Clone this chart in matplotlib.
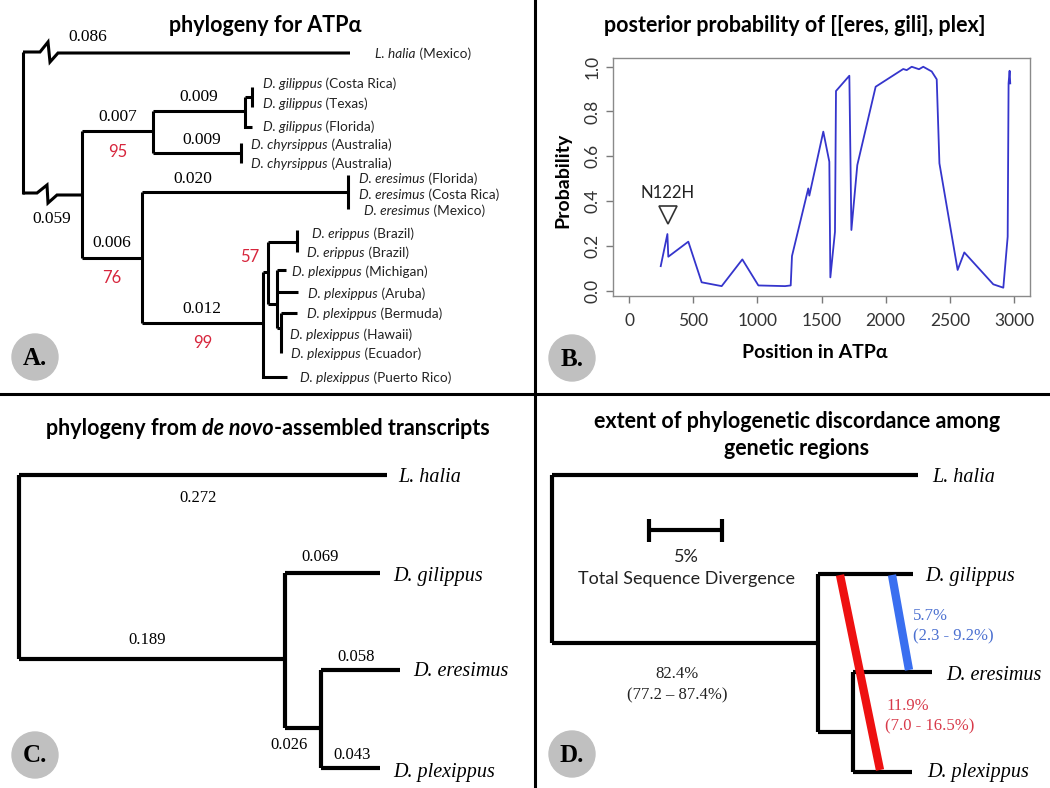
import matplotlib
matplotlib.use('Agg')
import matplotlib.pyplot as plt
from matplotlib.patches import Circle

# ---------------- data ----------------
# Panel B: posterior probability along ATPalpha
positions = [247, 299, 306, 462, 566, 722, 883, 1008, 1216, 1260, 1270, 1397, 1405,
             1514, 1561, 1569, 1605, 1613, 1717, 1733, 1779, 1922, 2137, 2164, 2203,
             2260, 2293, 2359, 2398, 2419, 2561, 2613, 2839, 2917, 2951, 2958, 2966, 2971]
probability = [0.111, 0.254, 0.153, 0.220, 0.039, 0.022, 0.141, 0.025, 0.022, 0.025,
               0.156, 0.457, 0.425, 0.710, 0.576, 0.061, 0.264, 0.891, 0.959, 0.272,
               0.561, 0.910, 0.989, 0.984, 0.999, 0.988, 0.999, 0.978, 0.943, 0.569,
               0.094, 0.172, 0.030, 0.015, 0.242, 0.925, 0.981, 0.925]
xticks_B = [0, 500, 1000, 1500, 2000, 2500, 3000]
yticks_B = [0.0, 0.2, 0.4, 0.6, 0.8, 1.0]
mutation_label = "N122H"
mutation_pos = 300

# Panel A tips (species, locality)
tipsA_species = ["L. halia", "D. gilippus", "D. gilippus", "D. gilippus", "D. chyrsippus",
                 "D. chyrsippus", "D. eresimus", "D. eresimus", "D. eresimus", "D. erippus",
                 "D. erippus", "D. plexippus", "D. plexippus", "D. plexippus", "D. plexippus",
                 "D. plexippus", "D. plexippus"]
tipsA_locality = ["(Mexico)", "(Costa Rica)", "(Texas)", "(Florida)", "(Australia)",
                  "(Australia)", "(Florida)", "(Costa Rica)", "(Mexico)", "(Brazil)",
                  "(Brazil)", "(Michigan)", "(Aruba)", "(Bermuda)", "(Hawaii)",
                  "(Ecuador)", "(Puerto Rico)"]
branchA_labels = ["0.086", "0.059", "0.007", "0.009", "0.009", "0.020", "0.006", "0.012"]
bootstrapA = ["95", "76", "99", "57"]

# Panel C
tipsC = ["L. halia", "D. gilippus", "D. eresimus", "D. plexippus"]
branchC_labels = ["0.272", "0.189", "0.069", "0.026", "0.058", "0.043"]

# Panel D
tipsD = ["L. halia", "D. gilippus", "D. eresimus", "D. plexippus"]
concordant = ["82.4%", "(77.2 \u2013 87.4%)"]
discord_blue = ["5.7%", "(2.3 - 9.2%)"]
discord_red = ["11.9%", "(7.0 - 16.5%)"]

# ---------------- figure ----------------
W, H = 1050, 788
fig = plt.figure(figsize=(W / 100, H / 100), dpi=100)
fig.patch.set_facecolor('white')
ax = fig.add_axes([0, 0, 1, 1])
ax.set_xlim(0, W)
ax.set_ylim(H, 0)
ax.axis('off')
renderer = fig.canvas.get_renderer()

SANS = ['Lato', 'DejaVu Sans']
SERIF = ['Liberation Serif', 'DejaVu Serif']


def rich(x, y, segs, ha='left', size=10, family=SANS, color='black'):
    widths = []
    for s, st, wt in segs:
        t = ax.text(0, 0, s, fontsize=size, family=family, style=st, weight=wt)
        widths.append(t.get_window_extent(renderer).width)
        t.remove()
    total = sum(widths)
    x0 = x - total / 2 if ha == 'center' else x
    for (s, st, wt), w in zip(segs, widths):
        ax.text(x0, y, s, fontsize=size, family=family, style=st, weight=wt,
                ha='left', va='center_baseline', color=color)
        x0 += w


def path(pts, lw=2.2, color='black'):
    xs = [p[0] for p in pts]
    ys = [p[1] for p in pts]
    ax.plot(xs, ys, color=color, lw=lw, solid_capstyle='butt', solid_joinstyle='miter')


# dividers
ax.plot([535, 535], [0, H], color='black', lw=2.2)
ax.plot([0, W], [394, 394], color='black', lw=2.2)

# panel circles
for (cx, cy), lab in zip([(35, 357), (572, 358), (35, 755), (572, 754)], ["A.", "B.", "C.", "D."]):
    ax.add_patch(Circle((cx, cy), 23, color='#c0c0c0', zorder=1))
    ax.text(cx, cy + 1, lab, ha='center', va='center', fontsize=18, weight='bold',
            family=SERIF, zorder=2)

# titles
TFS = 15.5
ax.text(265, 25, "phylogeny for ATP\u03b1", ha='center', va='center', fontsize=TFS,
        weight='bold', family=SANS)
ax.text(795, 25, "posterior probability of [[eres, gili], plex]", ha='center', va='center',
        fontsize=TFS, weight='bold', family=SANS)
rich(268, 426, [("phylogeny from ", 'normal', 'bold'), ("de novo", 'italic', 'bold'),
                ("-assembled transcripts", 'normal', 'bold')], ha='center', size=TFS)
ax.text(797, 421, "extent of phylogenetic discordance among", ha='center', va='center',
        fontsize=TFS, weight='bold', family=SANS)
ax.text(797, 448, "genetic regions", ha='center', va='center', fontsize=TFS,
        weight='bold', family=SANS)

# ---------------- Panel A tree ----------------
LA = 2.2
path([(23, 52), (23, 194)], LA)
path([(23, 52), (40, 52), (48, 42), (50, 62), (58, 53), (350, 53)], LA)
path([(23, 193), (37, 193), (47, 185), (48, 203), (57, 195), (82, 195)], LA)
path([(82, 131), (82, 258)], LA)
path([(82, 131), (153, 131)], LA)
path([(153, 111), (153, 153)], LA)
path([(153, 111), (245, 111)], LA)
path([(245, 97), (245, 127), (252, 127)], LA)
path([(245, 97), (252, 97)], LA)
path([(252, 87), (252, 107)], LA)
path([(153, 153), (241, 153)], LA)
path([(241, 143), (241, 163)], LA)
path([(82, 258), (142, 258)], LA)
path([(142, 192), (142, 323)], LA)
path([(142, 192), (348, 192)], LA)
path([(348, 175), (348, 209)], LA)
path([(142, 323), (263, 323)], LA)
path([(263, 272), (263, 377), (287, 377)], LA)
path([(263, 272), (268, 272)], LA)
path([(268, 242), (268, 304)], LA)
path([(268, 242), (297, 242)], LA)
path([(297, 230), (297, 252)], LA)
path([(268, 304), (277, 304)], LA)
path([(277, 270), (277, 328)], LA)
path([(277, 270), (286, 270)], LA)
path([(277, 292), (298, 292)], LA)
path([(277, 328), (281, 328)], LA)
path([(281, 313), (281, 353)], LA)
path([(281, 313), (297, 313)], LA)

tipA_xy = [(375, 53), (263, 83), (263, 103), (263, 126), (251, 144), (251, 163),
           (359, 178), (359, 194), (364, 210), (312, 233), (307, 252), (292, 271),
           (308, 293), (307, 313), (290, 334), (291, 353), (300, 377)]
for (x, y), sp, loc in zip(tipA_xy, tipsA_species, tipsA_locality):
    rich(x, y, [(sp, 'italic', 'normal'), (" " + loc, 'normal', 'normal')], size=9.8,
         color='#222222')

branchA_xy = [(88, 37), (52, 219), (118, 117), (199, 97), (202, 140), (193, 179),
              (112, 243), (202, 309)]
for (x, y), s in zip(branchA_xy, branchA_labels):
    ax.text(x, y, s, ha='center', va='center', fontsize=12.5, family=SERIF)
bootA_xy = [(118, 152), (112, 278), (203, 343), (250, 257)]
for (x, y), s in zip(bootA_xy, bootstrapA):
    ax.text(x, y, s, ha='center', va='center', fontsize=12, family=SANS, color='#d7263d')

# ---------------- Panel C tree ----------------
LC = 3.0
path([(19, 475), (19, 659)], LC)
path([(19, 475), (387, 475)], LC)
path([(19, 659), (285, 659)], LC)
path([(285, 573), (285, 728)], LC)
path([(285, 573), (380, 573)], LC)
path([(285, 728), (321, 728)], LC)
path([(321, 670), (321, 768)], LC)
path([(321, 670), (400, 670)], LC)
path([(321, 768), (380, 768)], LC)
tipC_xy = [(398, 477), (393, 577), (413, 672), (393, 772)]
for (x, y), s in zip(tipC_xy, tipsC):
    ax.text(x, y, s, ha='left', va='center', fontsize=14.5, style='italic', family=SERIF)
branchC_xy = [(198, 498), (147, 640), (320, 557), (289, 745), (356, 657), (352, 755)]
for (x, y), s in zip(branchC_xy, branchC_labels):
    ax.text(x, y, s, ha='center', va='center', fontsize=12, family=SERIF)

# ---------------- Panel D tree ----------------
path([(552, 475), (552, 643)], LC)
path([(552, 475), (918, 475)], LC)
path([(552, 643), (818, 643)], LC)
path([(818, 574), (818, 732)], LC)
path([(818, 574), (913, 574)], LC)
path([(818, 732), (853, 732)], LC)
path([(853, 672), (853, 772)], LC)
path([(853, 672), (932, 672)], LC)
path([(853, 772), (912, 772)], LC)
tipD_xy = [(932, 477), (925, 577), (946, 675), (927, 772)]
for (x, y), s in zip(tipD_xy, tipsD):
    ax.text(x, y, s, ha='left', va='center', fontsize=14.5, style='italic', family=SERIF)
# discordance bands
ax.plot([840, 880], [575, 770], color='#ee1111', lw=6, solid_capstyle='butt')
ax.plot([892, 909], [575, 670], color='#3a6ff0', lw=6, solid_capstyle='butt')
ax.text(913, 616, discord_blue[0], ha='left', va='center', fontsize=12, family=SERIF,
        color='#4a6fd0')
ax.text(913, 636, discord_blue[1], ha='left', va='center', fontsize=12, family=SERIF,
        color='#4a6fd0')
ax.text(886, 706, discord_red[0], ha='left', va='center', fontsize=12, family=SERIF,
        color='#d83a4a')
ax.text(885, 726, discord_red[1], ha='left', va='center', fontsize=12, family=SERIF,
        color='#d83a4a')
ax.text(677, 674, concordant[0], ha='center', va='center', fontsize=12, family=SERIF,
        color='#222222')
ax.text(677, 695, concordant[1], ha='center', va='center', fontsize=12, family=SERIF,
        color='#222222')
# scale bar
path([(649, 530), (722, 530)], LC)
path([(649, 519), (649, 542)], LC)
path([(722, 519), (722, 542)], LC)
ax.text(686, 557, "5%", ha='center', va='center', fontsize=13, family=SANS, color='#222222')
ax.text(686, 579, "Total Sequence Divergence", ha='center', va='center', fontsize=13,
        family=SANS, color='#222222')

# ---------------- Panel B plot ----------------
axB = fig.add_axes([613 / W, 1 - 296 / H, (1030 - 613) / W, (296 - 58) / H])
axB.plot(positions, probability, color='#3535cc', lw=1.3)
axB.set_xlim(-125, 3125)
axB.set_ylim(-0.022, 1.038)
axB.set_xticks(xticks_B)
axB.set_yticks(yticks_B)
axB.set_yticklabels([f"{v:.1f}" for v in yticks_B], rotation=90, va='center')
for sp in axB.spines.values():
    sp.set_color('#8a8a8a')
    sp.set_linewidth(1.0)
axB.tick_params(direction='out', length=5, width=1, color='#7a7a7a', labelsize=12.5,
                labelcolor='#333333')
axB.tick_params(axis='x', pad=7)
axB.tick_params(axis='y', pad=4)
for lab in axB.get_xticklabels() + axB.get_yticklabels():
    lab.set_family(SANS)
axB.plot([mutation_pos], [0.338], marker='v', ms=13, mfc='none', mec='#333333', mew=1.2)
axB.text(mutation_pos, 0.437, mutation_label, ha='center', va='center', fontsize=12,
         family=SANS, color='#222222')
ax.text(563, 180, "Probability", rotation=90, ha='center', va='center', fontsize=14,
        weight='bold', family=SANS)
ax.text(815, 352, "Position in ATP\u03b1", ha='center', va='center', fontsize=14,
        weight='bold', family=SANS)

fig.savefig('out.png', dpi=100)
